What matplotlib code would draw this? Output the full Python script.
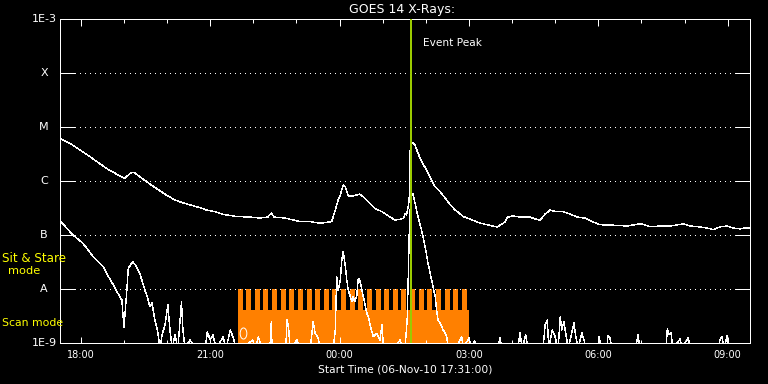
import matplotlib
matplotlib.use("Agg")
import matplotlib.dates as mdates
import matplotlib.pyplot as plt
import numpy as np
import pandas as pd
from matplotlib.path import Path
from matplotlib.ticker import NullLocator

START = pd.Timestamp("2010-11-06 17:31:00")
SPAN_MIN = 960  # 16 hours shown

# 1-8 A channel (long), minutes after start / flux W m^-2
long_min = [0, 18, 42, 65, 81, 90, 95, 100, 104, 111, 125, 134, 146, 158, 167, 181,
            195, 204, 216, 227, 246, 264, 278, 289, 294, 298, 313, 334, 348, 362, 378,
            383, 387, 390, 394, 397, 401, 408, 417, 422, 431, 438, 448, 457, 466, 473,
            478, 480, 482, 485, 486, 487, 489, 491, 494, 498, 503, 510, 517, 522, 529,
            536, 543, 550, 561, 570, 584, 596, 608, 615, 619, 623, 630, 640, 654, 661,
            668, 675, 682, 690, 700, 710, 719, 730, 742, 751, 765, 789, 797, 807, 814,
            821, 835, 849, 867, 877, 890, 900, 909, 918, 928, 936, 946, 953, 960]
long_flux = [6.2e-6, 4.6e-6, 2.8e-6, 1.7e-6, 1.29e-6, 1.12e-6, 1.29e-6, 1.45e-6, 1.41e-6,
             1.2e-6, 8.8e-7, 7.3e-7, 5.7e-7, 4.6e-7, 4.1e-7, 3.6e-7, 3.2e-7, 2.9e-7,
             2.7e-7, 2.4e-7, 2.2e-7, 2.15e-7, 2.06e-7, 2.15e-7, 2.55e-7, 2.15e-7, 2.06e-7,
             1.77e-7, 1.77e-7, 1.65e-7, 1.77e-7, 2.9e-7, 4.45e-7, 5.5e-7, 8.4e-7, 7.8e-7,
             5.3e-7, 5.3e-7, 5.7e-7, 5.1e-7, 3.86e-7, 3.12e-7, 2.7e-7, 2.25e-7, 1.89e-7,
             1.95e-7, 2.04e-7, 2.52e-7, 2.34e-7, 3.6e-7, 5.1e-7, 3.6e-6, 4.8e-6, 5.2e-6,
             4.6e-6, 3.3e-6, 2.3e-6, 1.6e-6, 1.04e-6, 7.8e-7, 6.3e-7, 4.8e-7, 3.6e-7,
             2.9e-7, 2.2e-7, 1.98e-7, 1.67e-7, 1.53e-7, 1.41e-7, 1.6e-7, 1.74e-7, 2.15e-7,
             2.25e-7, 2.15e-7, 2.15e-7, 1.98e-7, 1.89e-7, 2.45e-7, 2.9e-7, 2.7e-7, 2.7e-7,
             2.45e-7, 2.15e-7, 2.06e-7, 1.74e-7, 1.55e-7, 1.53e-7, 1.47e-7, 1.53e-7,
             1.62e-7, 1.53e-7, 1.42e-7, 1.47e-7, 1.47e-7, 1.6e-7, 1.47e-7, 1.41e-7,
             1.35e-7, 1.26e-7, 1.41e-7, 1.47e-7, 1.35e-7, 1.3e-7, 1.35e-7, 1.35e-7]

# 0.5-4 A channel (short); 8e-10 = below the plot floor
short_min = [1, 18, 32, 46, 60, 70, 76, 83, 86, 89, 92, 95, 101, 106, 111, 118, 122, 125,
             128, 132, 136, 139, 142, 146, 150, 153, 156, 160, 164, 169, 171, 174, 181,
             188, 202, 205, 209, 213, 217, 227, 231, 237, 241, 245, 255, 268, 272, 276,
             281, 292, 294, 295, 314, 316, 318, 320, 330, 333, 348, 351, 352, 353, 355,
             359, 362, 380, 383, 385, 387, 390, 392, 394, 397, 399, 401, 404, 406, 408,
             410, 413, 415, 417, 420, 424, 427, 429, 432, 436, 441, 445, 448, 450, 466,
             473, 477, 480, 483, 485, 486, 488, 491, 494, 498, 503, 508, 512, 517, 522,
             524, 526, 529, 533, 536, 538, 540, 550, 559, 561, 569, 572, 577, 580, 609,
             612, 615, 637, 640, 643, 648, 651, 672, 675, 678, 680, 685, 689, 693, 696,
             698, 701, 704, 707, 712, 715, 718, 721, 726, 729, 732, 748, 750, 753, 761,
             762, 765, 768, 801, 804, 807, 843, 845, 847, 850, 853, 863, 865, 874, 877,
             916, 918, 921, 924, 928, 931, 960]
short_flux = [1.77e-7, 1.0e-7, 7.0e-8, 4.0e-8, 2.6e-8, 1.47e-8, 1.09e-8, 7.2e-9, 6.3e-9,
              1.98e-9, 6.3e-9, 2.4e-8, 3.2e-8, 2.66e-8, 1.95e-8, 9.6e-9, 6.8e-9, 4.7e-9,
              5.5e-9, 2.66e-9, 1.6e-9, 8e-10, 1.41e-9, 2.15e-9, 5.05e-9, 1.74e-9, 8e-10,
              1.41e-9, 8e-10, 5.7e-9, 1.74e-9, 8e-10, 1.14e-9, 8e-10, 8e-10, 1.6e-9,
              1.14e-9, 1.41e-9, 8e-10, 1.29e-9, 8e-10, 1.74e-9, 1.24e-9, 8e-10, 8e-10,
              1.14e-9, 8e-10, 1.29e-9, 8e-10, 8e-10, 2.45e-9, 8e-10, 8e-10, 2.66e-9,
              1.98e-9, 8e-10, 1.14e-9, 8e-10, 8e-10, 1.74e-9, 2.45e-9, 2.15e-9, 1.53e-9,
              1.24e-9, 8e-10, 8e-10, 1.74e-9, 1.7e-8, 9.6e-9, 1.47e-8, 3.4e-8, 4.9e-8,
              2.6e-8, 1.47e-8, 9.6e-9, 7.2e-9, 5.8e-9, 7.2e-9, 5.8e-9, 7.7e-9, 1.58e-8,
              1.47e-8, 9.6e-9, 5.4e-9, 3.55e-9, 3.07e-9, 2.0e-9, 1.31e-9, 1.51e-9, 1.14e-9,
              2.15e-9, 8e-10, 8e-10, 1.14e-9, 8e-10, 8e-10, 2.66e-9, 3.0e-8, 1.24e-7,
              5.0e-7, 5.9e-7, 3.9e-7, 2.2e-7, 1.24e-7, 6.1e-8, 3.0e-8, 1.47e-8, 7.2e-9,
              4.1e-9, 2.66e-9, 2.34e-9, 1.74e-9, 1.53e-9, 1.3e-9, 8e-10, 8e-10, 1.29e-9,
              8e-10, 1.24e-9, 8e-10, 1.1e-9, 8e-10, 8e-10, 1.24e-9, 8e-10, 8e-10, 1.53e-9,
              8e-10, 1.41e-9, 8e-10, 8e-10, 2.15e-9, 2.66e-9, 8e-10, 1.74e-9, 1.29e-9,
              8e-10, 3.03e-9, 1.74e-9, 2.45e-9, 1.41e-9, 8e-10, 1.53e-9, 2.34e-9, 1.24e-9,
              8e-10, 1.53e-9, 1.14e-9, 8e-10, 8e-10, 1.29e-9, 8e-10, 8e-10, 1.35e-9,
              1.24e-9, 8e-10, 8e-10, 1.41e-9, 8e-10, 8e-10, 1.82e-9, 1.47e-9, 1.53e-9,
              8e-10, 1.19e-9, 8e-10, 1.24e-9, 8e-10, 8e-10, 1.14e-9, 1.29e-9, 8e-10,
              1.35e-9, 8e-10, 8e-10]

peak_min = 489
marker_min, marker_flux = 254, 1.55e-9

# instrument mode: sit & stare, interrupted by short scans
mode_start_min = 248
mode_end_min = 569
scan_start_min = [254, 266, 278, 290, 302, 314, 326, 338, 350, 362, 374, 386, 398, 410,
                  422, 434, 446, 458, 470, 482, 494, 506, 518, 530, 542, 554, 566]
scan_len_min = 5
sit_stare_level = 1e-8
scan_level = 4.1e-9

class_levels = [1e-9, 1e-8, 1e-7, 1e-6, 1e-5, 1e-4, 1e-3]
class_labels = ["1E-9", "A", "B", "C", "M", "X", "1E-3"]

ORANGE = "#ff8000"
GREEN = "#9bcb00"
YELLOW = "#ffff00"
PX = 0.72  # one pixel in points at 100 dpi


def to_time(minutes):
    return (START + pd.to_timedelta(np.asarray(minutes, dtype=float), unit="min")).to_numpy()


fig = plt.figure(figsize=(7.68, 3.84), dpi=100, facecolor="black")
ax = fig.add_axes([60 / 768, 41 / 384, 690 / 768, 324 / 384])
ax.set_facecolor("black")
ax.set_yscale("log")
ax.set_ylim(1e-9, 1e-3)
ax.set_xlim(to_time([0, SPAN_MIN]))

# mode bars
edges = [mode_start_min]
levels = [sit_stare_level]
for s in scan_start_min:
    edges += [s, min(s + scan_len_min, mode_end_min)]
    levels += [scan_level, sit_stare_level]
edges.append(mode_end_min)
levels.append(levels[-1])
ax.fill_between(to_time(edges), 1e-9, levels, step="post", color=ORANGE, lw=0, zorder=1)

for lv in class_levels[1:-1]:
    ax.axhline(lv, color="white", lw=PX, ls=(0, (1, 5)), antialiased=False, zorder=2)

ax.plot(to_time(long_min), long_flux, color="white", lw=0.3, antialiased=False, zorder=3)
ax.plot(to_time(short_min), short_flux, color="white", lw=0.3, antialiased=False, zorder=3)

circ = Path.unit_circle()
oval = Path(circ.vertices * [0.6, 1.0], circ.codes)
ax.plot(to_time([marker_min]), [marker_flux], marker=oval, ms=8, mfc="none",
        mec="white", mew=PX, ls="none", zorder=3)

ax.axvline(to_time([peak_min])[0], color=GREEN, lw=2 * PX, antialiased=False, zorder=4)

# axes styling
for sp in ax.spines.values():
    sp.set_color("white")
    sp.set_linewidth(PX)
ax.set_yticks(class_levels)
ax.set_yticklabels([])
ax.yaxis.set_minor_locator(NullLocator())
ax.tick_params(axis="y", which="major", direction="in", length=15 * PX, width=PX,
               color="white", left=True, right=True)
ax.xaxis.set_major_locator(mdates.HourLocator(byhour=range(0, 24, 3)))
ax.xaxis.set_minor_locator(mdates.HourLocator())
ax.xaxis.set_major_formatter(mdates.DateFormatter("%H:%M"))
ax.tick_params(axis="x", which="major", direction="in", length=6.5 * PX, width=PX,
               color="white", labelcolor="white", labelsize=7, top=True, pad=5)
ax.tick_params(axis="x", which="minor", direction="in", length=3.5 * PX, width=PX,
               color="white", top=True)
ax.set_xlabel("Start Time (06-Nov-10 17:31:00)", color="white", fontsize=7.7, labelpad=3)

ytr = ax.get_yaxis_transform()
for lv, lab in zip(class_levels, class_labels):
    if lab.startswith("1E"):
        ax.text(-3.5 / 690, lv, lab, transform=ytr, ha="right", va="center",
                color="white", fontsize=8)
    else:
        ax.text(-16 / 690, lv, lab, transform=ytr, ha="center", va="center",
                color="white", fontsize=8)

fig.text(402 / 768, 1 - 10 / 384, "GOES 14 X-Rays:", color="white", fontsize=9,
         ha="center", va="center")
fig.text(423 / 768, 1 - 43 / 384, "Event Peak", color="white", fontsize=7.6,
         ha="left", va="center")
fig.text(2 / 768, 1 - 258 / 384, "Sit & Stare", color=YELLOW, fontsize=8.6,
         ha="left", va="center")
fig.text(24 / 768, 1 - 271 / 384, "mode", color=YELLOW, fontsize=8.2,
         ha="center", va="center")
fig.text(2 / 768, 1 - 323.5 / 384, "Scan mode", color=YELLOW, fontsize=7.8,
         ha="left", va="center")

fig.savefig("out.png", dpi=100, facecolor="black")
